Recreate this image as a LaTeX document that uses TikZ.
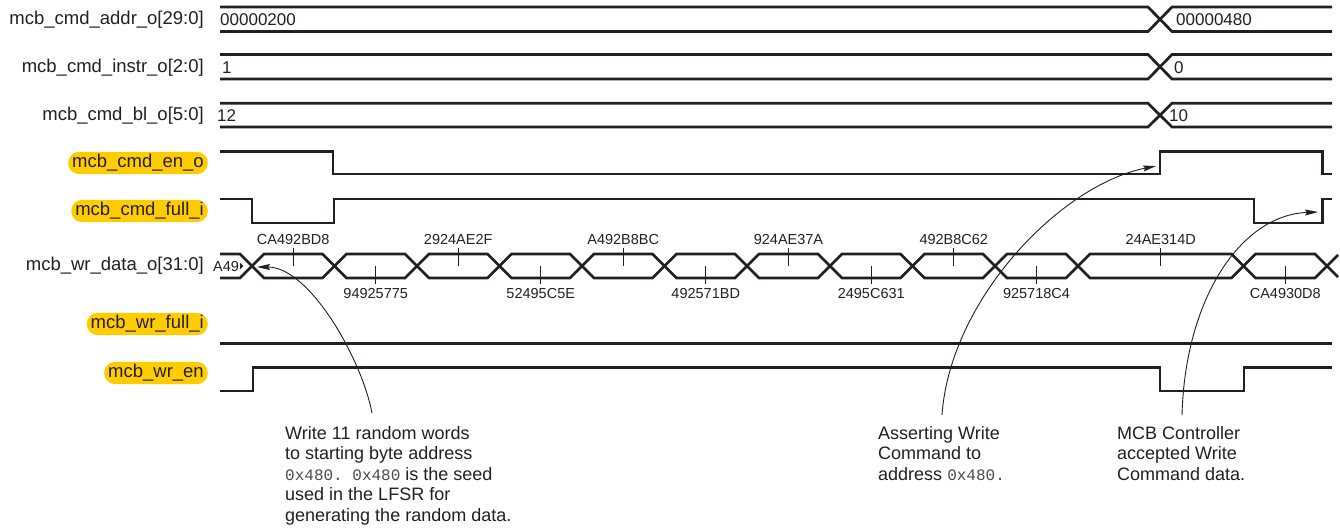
\documentclass[tikz,border=0pt]{standalone}
\usepackage{fontspec}
\setmainfont{Liberation Sans}
\setmonofont{Liberation Mono}
\usetikzlibrary{arrows.meta}
\definecolor{hl}{HTML}{FFCC00}
\definecolor{ink}{HTML}{231F20}
\definecolor{monoc}{HTML}{4A4A4A}
\newcommand\monotxt[1]{{\ttfamily\fontsize{16}{20.5}\selectfont\color{monoc}#1}}
\begin{document}
\begin{tikzpicture}[x=1pt,y=-1pt,
  wave/.style={draw=ink, line width=2.7pt, line join=miter},
  tickln/.style={draw=ink, line width=1pt},
  sig/.style={anchor=east, inner xsep=4pt, inner ysep=2.5pt, text height=13.3pt, text depth=4pt, font=\fontsize{18.5}{20}\selectfont, text=ink},
  hlsig/.style={sig, fill=hl, rounded corners=11pt},
  val/.style={anchor=west, inner sep=0pt, font=\fontsize{17}{19}\selectfont, text=ink},
  dval/.style={inner sep=0pt, font=\fontsize{14.5}{16}\selectfont, text=ink},
  note/.style={anchor=north west, inner sep=0pt, align=left, font=\fontsize{18}{20.5}\selectfont, text=ink},
  callout/.style={draw=ink, line width=0.9pt, -{Stealth[length=13pt,width=6pt,inset=2pt]}},
]
\useasboundingbox (0,0) rectangle (1340,531);

% signal names
\node[sig]   (l1) at (208,20)  {mcb\_cmd\_addr\_o[29:0]};
\node[sig]   (l2) at (208,67.5){mcb\_cmd\_instr\_o[2:0]};
\node[sig]   (l3) at (208,116) {mcb\_cmd\_bl\_o[5:0]};
\node[hlsig] (l4) at (208,163) {mcb\_cmd\_en\_o};
\node[hlsig] (l5) at (208,211) {mcb\_cmd\_full\_i};
\node[sig]   (l6) at (208,266) {mcb\_wr\_data\_o[31:0]};
\node[hlsig] (l7) at (208,324) {mcb\_wr\_full\_i};
\node[hlsig] (l8) at (208,373) {mcb\_wr\_en};

% bus signals
\foreach \t/\b in {7/31.5, 54.5/79, 103.3/127} {
  \draw[wave] (220,\t) -- (1148,\t) -- (1172,\b) -- (1332,\b);
  \draw[wave] (220,\b) -- (1148,\b) -- (1172,\t) -- (1332,\t);
}
\node[val] (v1) at (220,20)   {00000200};
\node[val] (v2) at (222,67.5) {1};
\node[val] (v3) at (217,116)  {12};
\node[val] (v4) at (1176,20)  {00000480};
\node[val] (v5) at (1174,67.5){0};
\node[val] (v6) at (1169,116) {10};

% single-bit signals
\draw[wave] (220,151.7) -- (333,151.7) -- (333,174) -- (1160,174) -- (1160,151.7) -- (1322.7,151.7) -- (1322.7,174) -- (1332,174);
\draw[wave] (220,199) -- (252,199) -- (252,223) -- (334,223) -- (334,199) -- (1254,199) -- (1254,223) -- (1322.7,223) -- (1322.7,199) -- (1332,199);
\draw[wave] (220,343.3) -- (1332,343.3);
\draw[wave] (220,391) -- (253,391) -- (253,367.3) -- (1160,367.3) -- (1160,391) -- (1244,391) -- (1244,367.3) -- (1332,367.3);

% data bus
\def\dt{254}\def\db{278}\def\dm{266}
\draw[wave] (220,\dt) -- (240,\dt) -- (252,\dm) -- (240,\db) -- (220,\db);
\node[dval, anchor=west] (d0) at (213,266) {A49};
\fill[ink] (240.2,262.8) -- (243.4,266) -- (240.2,269.2) -- cycle;
\foreach \a/\b/\txt/\ty/\ly [count=\i] in {
  252/334.5/CA492BD8/248/240,
  334.5/417/94925775/284/293,
  417/499.5/2924AE2F/248/240,
  499.5/582/52495C5E/284/293,
  582/664.5/A492B8BC/248/240,
  664.5/747/492571BD/284/293,
  747/830/924AE37A/248/240,
  830/912.5/2495C631/284/293,
  912.5/995/492B8C62/248/240,
  995/1078/925718C4/284/293,
  1078/1243.5/24AE314D/248/240,
  1243.5/1327/CA4930D8/284/293} {
  \draw[wave] (\a,\dm) -- ({\a+12},\dt) -- ({\b-12},\dt) -- (\b,\dm) -- ({\b-12},\db) -- ({\a+12},\db) -- cycle;
  \pgfmathsetmacro\m{(\a+\b)/2}
  \draw[tickln] (\m,\ty) -- (\m,\dm);
  \node[dval] (d\i) at (\m,\ly) {\txt};
}
\draw[wave] (1338,255) -- (1327,\dm) -- (1338,277);

% notes
\node[note] (n1) at (285,426) {Write 11 random words\\to starting byte address\\\monotxt{0x480. 0x480} is the seed\\used in the LFSR for\\generating the random data.};
\node[note] (n2) at (878,426) {Asserting Write\\Command to\\address \monotxt{0x480.}};
\node[note] (n3) at (1117,426) {MCB Controller\\accepted Write\\Command data.};

% callouts
\coordinate (c1s) at (372,413); \coordinate (c1e) at (257,267);
\coordinate (c2s) at (942,415); \coordinate (c2e) at (1156,166);
\coordinate (c3s) at (1182,415); \coordinate (c3e) at (1318,212);
\draw[callout] (c1s) .. controls (362,360) and (310,267) .. (c1e);
\draw[callout] (c2s) .. controls (950,300) and (1060,185) .. (c2e);
\draw[callout] (c3s) .. controls (1185,300) and (1240,215) .. (c3e);
\end{tikzpicture}
\end{document}
